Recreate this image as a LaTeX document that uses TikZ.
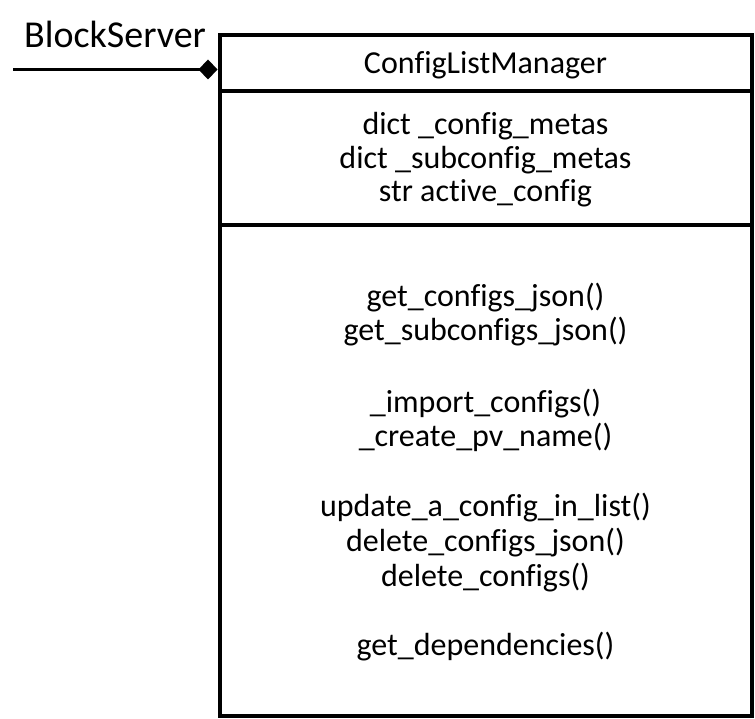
\documentclass[tikz,border=0pt]{standalone}
\usepackage{fontspec}
\setmainfont{Carlito}[Ligatures=NoCommon]
\usetikzlibrary{arrows.meta}
\begin{document}
\begin{tikzpicture}[x=1pt,y=-1pt,
  txt/.style={anchor=base,inner sep=0pt,font=\fontsize{32}{34}\selectfont},
  border/.style={line width=4pt},
]
\useasboundingbox (0,0) rectangle (755,719);
\node[draw,border,minimum width=532pt,minimum height=680.5pt,inner sep=0pt] (cls) at (485.5,375.25) {};
\coordinate (s1l) at (219.5,91.5); \coordinate (s1r) at (751.5,91.5);
\coordinate (s2l) at (219.5,225); \coordinate (s2r) at (751.5,225);
\draw[border] (s1l) -- (s1r);
\draw[border] (s2l) -- (s2r);
\node[txt] (name) at (485.5,74) {ConfigListManager};
\node[txt] (a1) at (485.5,135) {dict \_config\_metas};
\node[txt] (a2) at (485.5,169) {dict \_subconfig\_metas};
\node[txt] (a3) at (485.5,202) {str active\_config};
\node[txt] (m1) at (485.5,307) {get\_configs\_json()};
\node[txt] (m2) at (485.5,341) {get\_subconfigs\_json()};
\node[txt] (m3) at (485.5,412) {\_import\_configs()};
\node[txt] (m4) at (485.5,446) {\_create\_pv\_name()};
\node[txt] (m5) at (485.5,516) {update\_a\_config\_in\_list()};
\node[txt] (m6) at (485.5,551) {delete\_configs\_json()};
\node[txt] (m7) at (485.5,586) {delete\_configs()};
\node[txt] (m8) at (485.5,655) {get\_dependencies()};
\node[anchor=base west,inner sep=0pt,font=\fontsize{38}{42}\selectfont] (bs) at (24,48) {BlockServer};
\coordinate (lineend) at (13,69.5);
\coordinate (att) at (217.5,69.5);
\draw[line width=2.5pt,-{Diamond[length=19pt,width=20pt]}] (lineend) -- (att);
\end{tikzpicture}
\end{document}
